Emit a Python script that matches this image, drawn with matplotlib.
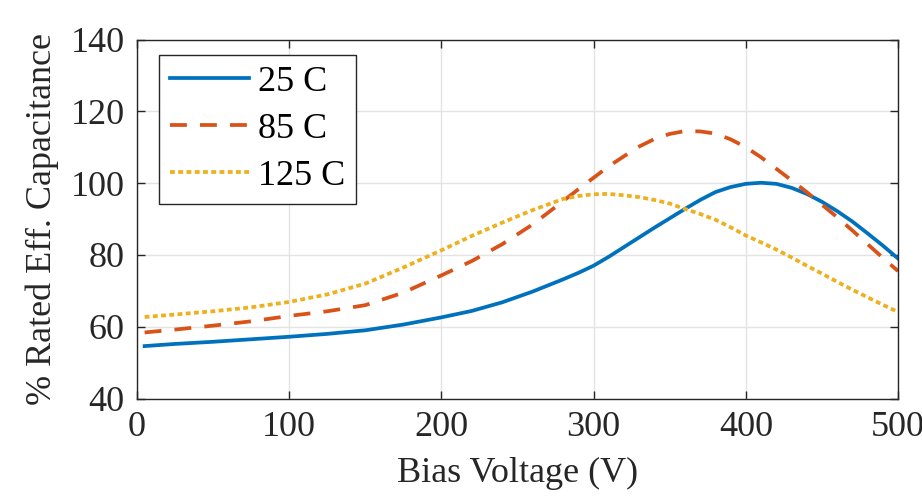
import matplotlib
matplotlib.use("Agg")
import matplotlib.pyplot as plt

plt.rcParams['font.family'] = ['Liberation Serif', 'DejaVu Serif']

voltage = [5, 25, 50, 75, 100, 125, 150, 175, 200, 220, 240, 260, 280, 290, 300, 310, 320, 330, 340,
           350, 360, 370, 380, 390, 400, 410, 420, 430, 440, 450, 460, 470, 480, 490, 500]
cap_25 = [54.6, 55.2, 55.8, 56.5, 57.2, 58.0, 59.0, 60.6, 62.6, 64.4, 66.8, 69.8, 73.2, 75.0, 77.0, 79.5,
          82.2, 84.9, 87.6, 90.2, 92.8, 95.3, 97.5, 98.9, 99.8, 100.1, 99.8, 98.7, 97.0, 94.8, 92.2,
          89.3, 86.0, 82.6, 79.0]
cap_85 = [58.4, 59.2, 60.3, 61.5, 63.0, 64.3, 66.0, 69.5, 74.3, 78.3, 83.0, 88.5, 95.0, 98.3, 101.5, 104.7,
          107.5, 110.2, 112.3, 113.7, 114.5, 114.4, 113.8, 112.2, 110.0, 107.2, 104.0, 100.8, 97.5,
          94.0, 90.5, 86.8, 83.0, 79.2, 75.5]
cap_125 = [62.7, 63.4, 64.3, 65.4, 66.9, 69.0, 72.0, 76.5, 81.3, 85.3, 89.0, 92.5, 95.6, 96.4, 96.9, 97.0,
           96.6, 96.1, 95.3, 94.3, 92.8, 91.4, 89.8, 87.7, 85.4, 83.5, 81.5, 79.3, 77.0, 74.8, 72.5,
           70.3, 68.2, 66.1, 64.1]
labels = ['25 C', '85 C', '125 C']
xticks = [0, 100, 200, 300, 400, 500]
yticks = [40, 60, 80, 100, 120, 140]

fig = plt.figure(figsize=(9.22, 4.99), dpi=100)
ax = fig.add_axes([0.1486, 0.2014, 0.8254, 0.7194])

lw = 2.7
ax.plot(voltage, cap_25, color='#0072BD', lw=lw, label=labels[0])
ax.plot(voltage, cap_85, color='#D95319', lw=lw, dashes=(4.5, 3.5), label=labels[1])
ax.plot(voltage, cap_125, color='#EDB120', lw=lw, dashes=(1.3, 0.9), label=labels[2])

ax.set_xlim(0, 500)
ax.set_ylim(40, 140)
ax.set_xticks(xticks)
ax.set_yticks(yticks)
ax.grid(True, color='#e3e3e3', lw=1.0)
ax.set_axisbelow(True)
ax.tick_params(direction='in', top=True, right=True, length=6, width=1,
               labelsize=26, colors='#262626', pad=9)
for s in ax.spines.values():
    s.set_color('#262626')
    s.set_linewidth(1.0)

ax.set_xlabel('Bias Voltage (V)', fontsize=26, color='#262626', labelpad=9)
ax.set_ylabel('% Rated Eff. Capacitance', fontsize=26, color='#262626', labelpad=8)

leg = ax.legend(loc='upper left', bbox_to_anchor=(0.029, 0.957), fontsize=26,
                handlelength=2.2, handletextpad=0.25, labelspacing=0.38,
                borderpad=0.3, borderaxespad=0, fancybox=False, framealpha=1,
                edgecolor='#262626')
leg.get_frame().set_linewidth(1.0)

fig.savefig('out.png', dpi=100)
